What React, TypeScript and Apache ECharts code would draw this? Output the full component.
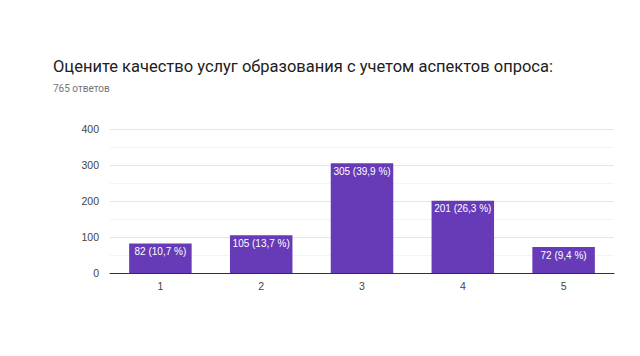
import React, { useEffect, useRef } from "react";
import * as echarts from "echarts";

const categories = ["1", "2", "3", "4", "5"];
const values = [82, 105, 305, 201, 72];
const percents = ["10,7", "13,7", "39,9", "26,3", "9,4"];
const yTicks = [0, 100, 200, 300, 400];

export default function App() {
  const ref = useRef<HTMLDivElement>(null);
  useEffect(() => {
    document.body.style.margin = "0";
    const chart = echarts.init(ref.current!, undefined, { renderer: "svg" });
    chart.setOption({
      animation: false,
      backgroundColor: "#ffffff",
      textStyle: { fontFamily: "Roboto" },
      title: [
        {
          text: "Оцените качество услуг образования с учетом аспектов опроса:",
          left: 53,
          top: 58,
          padding: 0,
          textStyle: { fontSize: 16.5, fontWeight: "normal", color: "#212121", fontFamily: "Roboto" },
        },
        {
          text: "765 ответов",
          left: 53,
          top: 83,
          padding: 0,
          textStyle: { fontSize: 10, fontWeight: "normal", color: "#757575", fontFamily: "Roboto" },
        },
      ],
      grid: { left: 110, right: 26, top: 129, bottom: 83 },
      xAxis: {
        type: "category",
        data: categories,
        axisLine: { lineStyle: { color: "#333333", width: 1 } },
        axisTick: { show: false },
        axisLabel: { color: "#444444", fontSize: 10.5, margin: 7, fontFamily: "Liberation Sans" },
      },
      yAxis: {
        type: "value",
        min: yTicks[0],
        max: yTicks[yTicks.length - 1],
        interval: 100,
        axisLine: { show: false },
        axisTick: { show: false },
        axisLabel: { color: "#444444", fontSize: 10.5, margin: 11, fontFamily: "Liberation Sans" },
        splitLine: { lineStyle: { color: "#e6e6e6" } },
        minorTick: { show: false, splitNumber: 2 },
        minorSplitLine: { show: true, lineStyle: { color: "#f4f4f4" } },
      },
      series: [
        {
          type: "bar",
          data: values,
          barWidth: "62%",
          itemStyle: { color: "#673ab7" },
          label: {
            show: true,
            position: "insideTop",
            distance: 3,
            color: "#ffffff",
            fontSize: 10,
            fontFamily: "Liberation Sans",
            formatter: (p: any) => `${p.value} (${percents[p.dataIndex]} %)`,
          },
        },
      ],
    });
    return () => chart.dispose();
  }, []);
  return <div ref={ref} style={{ width: 640, height: 356 }} />;
}
